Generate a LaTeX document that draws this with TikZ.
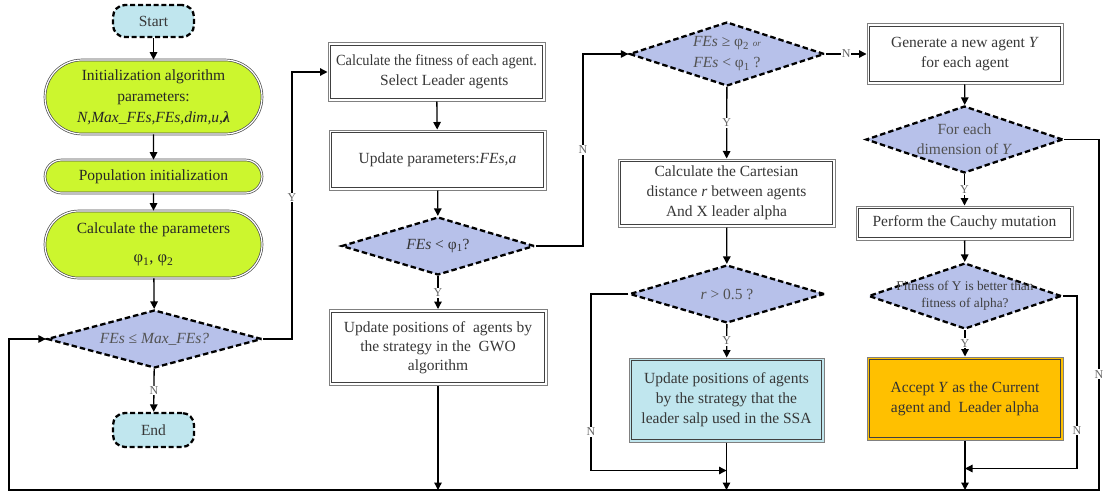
\documentclass[tikz,border=0pt]{standalone}
\usepackage{fontspec}
\setmainfont{Liberation Serif}
\usetikzlibrary{shapes.geometric,shapes.misc,arrows.meta}
\definecolor{termblue}{RGB}{192,230,238}
\definecolor{lime}{RGB}{204,246,46}
\definecolor{decfill}{RGB}{183,193,234}
\definecolor{accorange}{RGB}{255,192,0}
\definecolor{txt}{RGB}{55,55,55}
\begin{document}
\begin{tikzpicture}[x=1pt,y=-1pt,
  font=\fontsize{15.5}{20}\selectfont,
  every node/.style={align=center,inner sep=0pt},
  term/.style={draw=black,fill=termblue,line width=2.3pt,dash pattern=on 5pt off 2.8pt,
    rounded corners=12pt,minimum width=81pt,minimum height=32pt,text=txt},
  greenbox/.style={rounded rectangle,draw=black!70,double=white,double distance=1.2pt,
    line width=0.7pt,fill=lime,text=black!85,minimum width=217pt,font=\fontsize{15.5}{21}\selectfont},
  procbox/.style={rectangle,draw=black!50,line width=1pt,fill=white,text=txt,
    path picture={\draw[black!75,line width=1pt]
      ([xshift=2.6pt,yshift=-2.6pt]path picture bounding box.north west) rectangle
      ([xshift=-2.6pt,yshift=2.6pt]path picture bounding box.south east);}},
  dec/.style={diamond,draw=black,fill=decfill,line width=2.3pt,dash pattern=on 5.5pt off 3pt},
  dtext/.style={text=black!68},
  conn/.style={line width=1.3pt,draw=black},
  arr/.style={conn,-{Triangle[length=7.5pt,width=7.5pt]}},
  yn/.style={fill=white,text=black!60,font=\fontsize{12}{13}\selectfont,inner sep=1pt}
]
\useasboundingbox (0,0) rectangle (1105,495);

% bend columns and the collecting line
\coordinate (colL) at (9,0);
\coordinate (colA) at (292,0);
\coordinate (colB) at (583,0);
\coordinate (colC) at (591,0);
\coordinate (colD) at (1077,0);
\coordinate (colE) at (1099,0);
\coordinate (bot) at (0,490);

% left column: initialisation
\node[term] (start) at (153.5,21) {Start};
\node[greenbox,minimum height=74pt] (init) at (153.5,97)
  {Initialization algorithm\\ parameters:\\ \textit{N,Max\_FEs,FEs,dim,u,}\textbf{\textit{λ}}};
\node[greenbox,minimum height=33pt] (pop) at (153.5,176.5) {Population initialization};
\node[greenbox,minimum height=67pt,font=\fontsize{15.5}{29}\selectfont] (calc) at (153.5,244.5)
  {Calculate the parameters\\ {\fontsize{16.5}{16.5}\selectfont φ\textsubscript{1}, φ\textsubscript{2}}};
\node[dec,minimum width=215pt,minimum height=58pt] (dmax) at (154.5,339) {};
\node[dtext] at (dmax) {\textit{FEs} ≤ \textit{Max\_FEs?}};
\node[term,minimum height=34pt] (end) at (153.5,430) {End};

% second column: GWO branch
\node[procbox,minimum width=217pt,minimum height=58pt] (fit) at (436.5,72)
  {\scalebox{0.93}[1]{Calculate the fitness of each agent.}\\ \hspace*{1em}Select Leader agents};
\node[procbox,minimum width=217pt,minimum height=60pt] (upd) at (437.5,160)
  {Update parameters:\textit{FEs,a}};
\node[dec,minimum width=193pt,minimum height=58pt] (dphi1) at (438,246) {};
\node[dtext,text=black!80] at (dphi1) {\textit{FEs} < φ\textsubscript{1}?};
\node[procbox,minimum width=218pt,minimum height=76pt,font=\fontsize{15.5}{19}\selectfont] (gwo) at (438,347.5)
  {Update positions of \ agents by\\ the strategy in the \ GWO\\ algorithm};

% third column: SSA branch
\node[dec,minimum width=195pt,minimum height=64pt] (d3) at (727,54) {};
\node[dtext,font=\fontsize{15.5}{21}\selectfont] at (d3)
  {\textit{FEs} ≥ φ\textsubscript{2} {\small\textit{or}}\\ \textit{FEs} < φ\textsubscript{1} ?};
\node[procbox,minimum width=217pt,minimum height=68pt] (cart) at (726.5,193)
  {Calculate the Cartesian\\ distance \textit{r} between agents\\ And X leader alpha};
\node[dec,minimum width=195pt,minimum height=58pt] (dr) at (727,294) {};
\node[dtext] at (dr) {\textit{r} > 0.5 ?};
\node[procbox,fill=termblue,minimum width=195pt,minimum height=84pt] (ssa) at (726.5,400)
  {Update positions of agents\\ by the strategy that the\\ leader salp used in the SSA};

% fourth column: Cauchy mutation branch
\node[procbox,minimum width=196pt,minimum height=60pt] (gen) at (965,54)
  {Generate a new agent \textit{Y}\\ for each agent};
\node[dec,minimum width=197pt,minimum height=67pt] (dfor) at (964.5,139.5) {};
\node[dtext] at (dfor) {For each\\ dimension of \textit{Y}};
\node[procbox,minimum width=217pt,minimum height=34pt] (cauchy) at (964.5,223)
  {Perform the Cauchy mutation};
\node[dec,minimum width=193pt,minimum height=66pt] (dfit) at (965,296) {};
\node[dtext,text=black!75,font=\fontsize{13.3}{17}\selectfont] at (dfit)
  {Fitness of Y is better than\\ fitness of alpha?};
\node[procbox,fill=accorange,text=black!80,minimum width=196pt,minimum height=83pt] (acc) at (965,398.5)
  {Accept \textit{Y} as the Current\\ agent and \ Leader alpha};

% join points on the outgoing lines
\path (ssa.south) ++(0,28) coordinate (jc);
\path (acc.south) ++(0,28) coordinate (jd);

% left column flow
\draw[arr] (start) -- (init);
\draw[arr] (init) -- (pop);
\draw[arr] (pop) -- (calc);
\draw[arr] (calc) -- (dmax);
\draw[arr] (dmax) -- node[yn]{N} (end);
\draw[arr] (dmax.east) -- (dmax.east -| colA) -- node[yn,pos=0.53]{Y} (fit.west -| colA) -- (fit.west);

% second column flow
\draw[arr] (fit) -- (upd);
\draw[arr] (upd) -- (dphi1);
\draw[arr] (dphi1) -- node[yn]{Y} (gwo);
\draw[arr] (dphi1.east) -- (dphi1.east -| colB) -- node[yn]{N} (d3.west -| colB) -- (d3.west);
\draw[arr] (gwo) -- (gwo.south |- bot);

% third column flow
\draw[arr] (d3) -- node[yn]{Y} (cart);
\draw[arr] (d3.east) -- node[yn]{N} (gen.west);
\draw[arr] (cart) -- (dr);
\draw[arr] (dr) -- node[yn]{Y} (ssa);
\draw[arr] (dr.west) -- (dr.west -| colC) -- node[yn,pos=0.78]{N} (jc -| colC) -- (jc);
\draw[arr] (ssa) -- (ssa.south |- bot);

% fourth column flow
\draw[arr] (gen) -- (dfor);
\draw[arr] (dfor) -- node[yn]{Y} (cauchy);
\draw[arr] (cauchy) -- (dfit);
\draw[arr] (dfit) -- node[yn]{Y} (acc);
\draw[arr] (dfit.east) -- (dfit.east -| colD) -- node[yn,pos=0.78]{N} (jd -| colD) -- (jd);
\draw[arr] (acc) -- (acc.south |- bot);

% loop back to the termination test
\draw[arr] (dfor.east) -- (dfor.east -| colE) -- node[yn,pos=0.67]{N} (bot -| colE)
  -- (bot -| colL) -- (dmax.west -| colL) -- (dmax.west);
\end{tikzpicture}
\end{document}
